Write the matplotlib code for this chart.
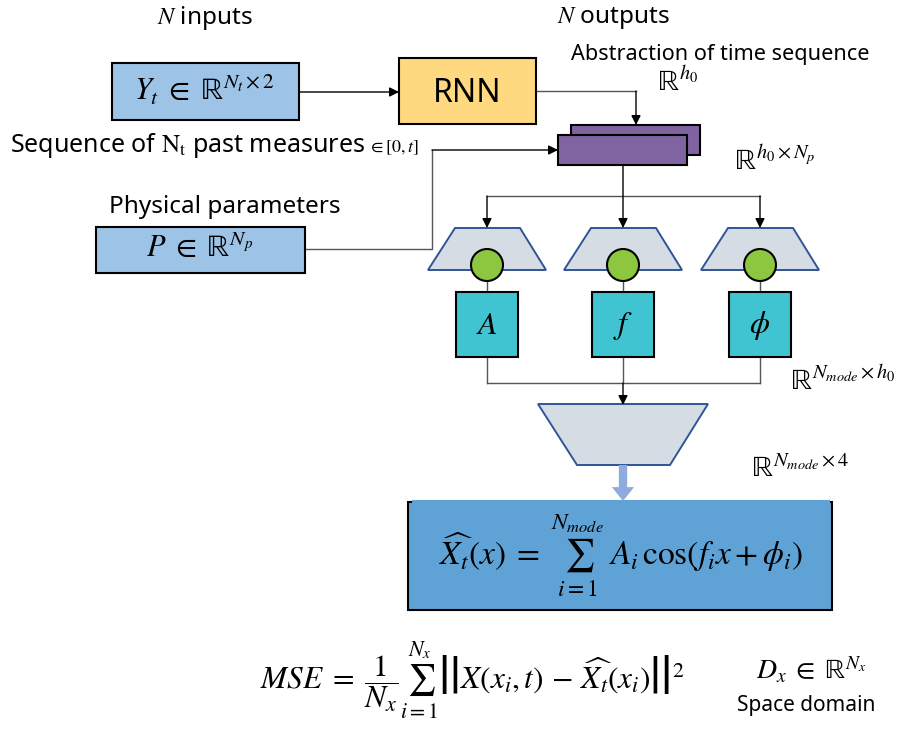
import matplotlib.pyplot as plt
from matplotlib.patches import Rectangle, Polygon, Circle, FancyArrowPatch

plt.rcParams["font.family"] = ["Noto Sans", "DejaVu Sans"]
plt.rcParams["mathtext.fontset"] = "stix"

RR = "\\mathrm{\u211d}"

# Labels
head_labels = [r"$N$ inputs", r"$N$ outputs"]
input_labels = [r"$Y_t\;\in\;" + RR + r"^{N_t \times 2}$", r"$P\;\in\;" + RR + r"^{N_p}$"]
branch_labels = [r"$A$", r"$f$", r"$\phi$"]
dim_labels = ["$" + RR + r"^{h_0}$", "$" + RR + r"^{h_0 \times N_p}$",
              "$" + RR + r"^{N_{mode} \times h_0}$", "$" + RR + r"^{N_{mode} \times 4}$"]
recon_eq = r"$\widehat{X_t}(x)\;=\;\sum_{i=1}^{N_{mode}}\;A_i\,\cos(f_i x + \phi_i)$"
loss_eq = (r"$MSE\;=\;\dfrac{1}{N_x}\sum_{i=1}^{N_x}\left|\left|X(x_i,t)\,-\,"
           r"\widehat{X_t}(x_i)\right|\right|^2$")
domain_label = r"$D_x\;\in\;" + RR + r"^{N_x}$"

light_blue = "#9DC3E6"
rnn_yellow = "#FFD97F"
purple = "#8064A2"
trap_grey = "#D6DCE4"
trap_edge = "#2F5597"
green = "#8DC63F"
cyan = "#41C4D1"
big_blue = "#5FA2D6"
line_grey = "#555555"

fig = plt.figure(figsize=(9.1, 7.29), dpi=100)
ax = fig.add_axes([0, 0, 1, 1])
ax.set_xlim(0, 910)
ax.set_ylim(729, 0)
ax.axis("off")


def box(x0, y0, x1, y1, color, lw=1.5, ec="black"):
    ax.add_patch(Rectangle((x0, y0), x1 - x0, y1 - y0, facecolor=color,
                           edgecolor=ec, linewidth=lw, zorder=2))


def trap(top_l, top_r, bot_l, bot_r, y_top, y_bot):
    ax.add_patch(Polygon([(top_l, y_top), (top_r, y_top), (bot_r, y_bot), (bot_l, y_bot)],
                         closed=True, facecolor=trap_grey, edgecolor=trap_edge,
                         linewidth=1.4, zorder=2))


def path(points, arrow=True, color=line_grey):
    xs = [p[0] for p in points]
    ys = [p[1] for p in points]
    if arrow:
        ax.plot(xs[:-1], ys[:-1], color=color, lw=1.0, zorder=1)
        ax.add_patch(FancyArrowPatch(points[-2], points[-1], arrowstyle="-|>",
                                     mutation_scale=14, color="black", lw=1.0,
                                     shrinkA=0, shrinkB=0, zorder=3))
    else:
        ax.plot(xs, ys, color=color, lw=1.0, zorder=1)


# headings
ax.text(205, 18, head_labels[0], fontsize=17.5, ha="center", va="center")
ax.text(613, 18, head_labels[1], fontsize=17.5, ha="center", va="center")

# input Y_t
box(112, 63, 299, 120, light_blue)
ax.text(204, 91, input_labels[0], fontsize=22, ha="center", va="center", zorder=4)
path([(299, 92), (399, 92)])

# RNN
box(399, 58, 536, 124, rnn_yellow)
ax.text(467, 93, "RNN", fontsize=23, ha="center", va="center", zorder=4)
path([(536, 91), (636, 91), (636, 125)])

ax.text(720, 54, "Abstraction of time sequence", fontsize=15.6, ha="center", va="center")
ax.text(678, 83, dim_labels[0], fontsize=21, ha="center", va="center")

# stacked latent vectors
box(571, 125, 700, 155, purple)
box(558, 135, 687, 165, purple)

# sequence caption
ax.text(10, 145, r"Sequence of $\mathrm{N_t}$ past measures", fontsize=18,
        ha="left", va="center")
ax.text(368, 148, r"$\in[0,t]$", fontsize=13, ha="left", va="center")

# physical parameters
ax.text(225, 207, "Physical parameters", fontsize=17.5, ha="center", va="center")
box(96, 227, 305, 273, light_blue)
ax.text(200, 249, input_labels[1], fontsize=22, ha="center", va="center", zorder=4)
path([(305, 249), (432, 249), (432, 150), (558, 150)])

ax.text(775, 162, dim_labels[1], fontsize=21, ha="center", va="center")

# branches
cx = [487, 623, 760]
path([(623, 165), (623, 228)])
ax.plot([cx[0], cx[2]], [196, 196], color=line_grey, lw=1.0, zorder=1)
path([(cx[0], 196), (cx[0], 228)])
path([(cx[2], 196), (cx[2], 228)])

for c, lab in zip(cx, branch_labels):
    trap(c - 32, c + 33, c - 59, c + 59, 228, 270)
    ax.plot([c, c], [280, 292], color=line_grey, lw=1.0, zorder=1)
    ax.add_patch(Circle((c, 265), 16, facecolor=green, edgecolor="black",
                        linewidth=1.5, zorder=3))
    box(c - 31, 292, c + 31, 357, cyan)
    ax.text(c, 325, lab, fontsize=23, ha="center", va="center", zorder=4)
    ax.plot([c, c], [357, 383], color=line_grey, lw=1.0, zorder=1)

ax.plot([cx[0], cx[2]], [383, 383], color=line_grey, lw=1.0, zorder=1)
path([(623, 383), (623, 405)])
ax.text(843, 382, dim_labels[2], fontsize=21, ha="center", va="center")

# decoder
trap(538, 708, 577, 670, 404, 465)
ax.add_patch(FancyArrowPatch((623, 465), (623, 501),
                             arrowstyle="simple,head_width=1.6,head_length=1.0,tail_width=0.6",
                             mutation_scale=10, color="#8FAADC", lw=0,
                             shrinkA=0, shrinkB=0, zorder=3))
ax.text(800, 469, dim_labels[3], fontsize=21, ha="center", va="center")

# reconstruction box
box(408, 502, 832, 610, big_blue, lw=1.5)
ax.add_patch(Rectangle((412, 500), 418, 108, facecolor=big_blue, edgecolor="none", zorder=2.5))
ax.text(621, 556, recon_eq, fontsize=24, ha="center", va="center", zorder=4)

# loss
ax.text(472, 680, loss_eq, fontsize=22.5, ha="center", va="center")
ax.text(811, 671, domain_label, fontsize=20, ha="center", va="center")
ax.text(806, 706, "Space domain", fontsize=15, ha="center", va="center")

fig.savefig("out.png", dpi=100)
